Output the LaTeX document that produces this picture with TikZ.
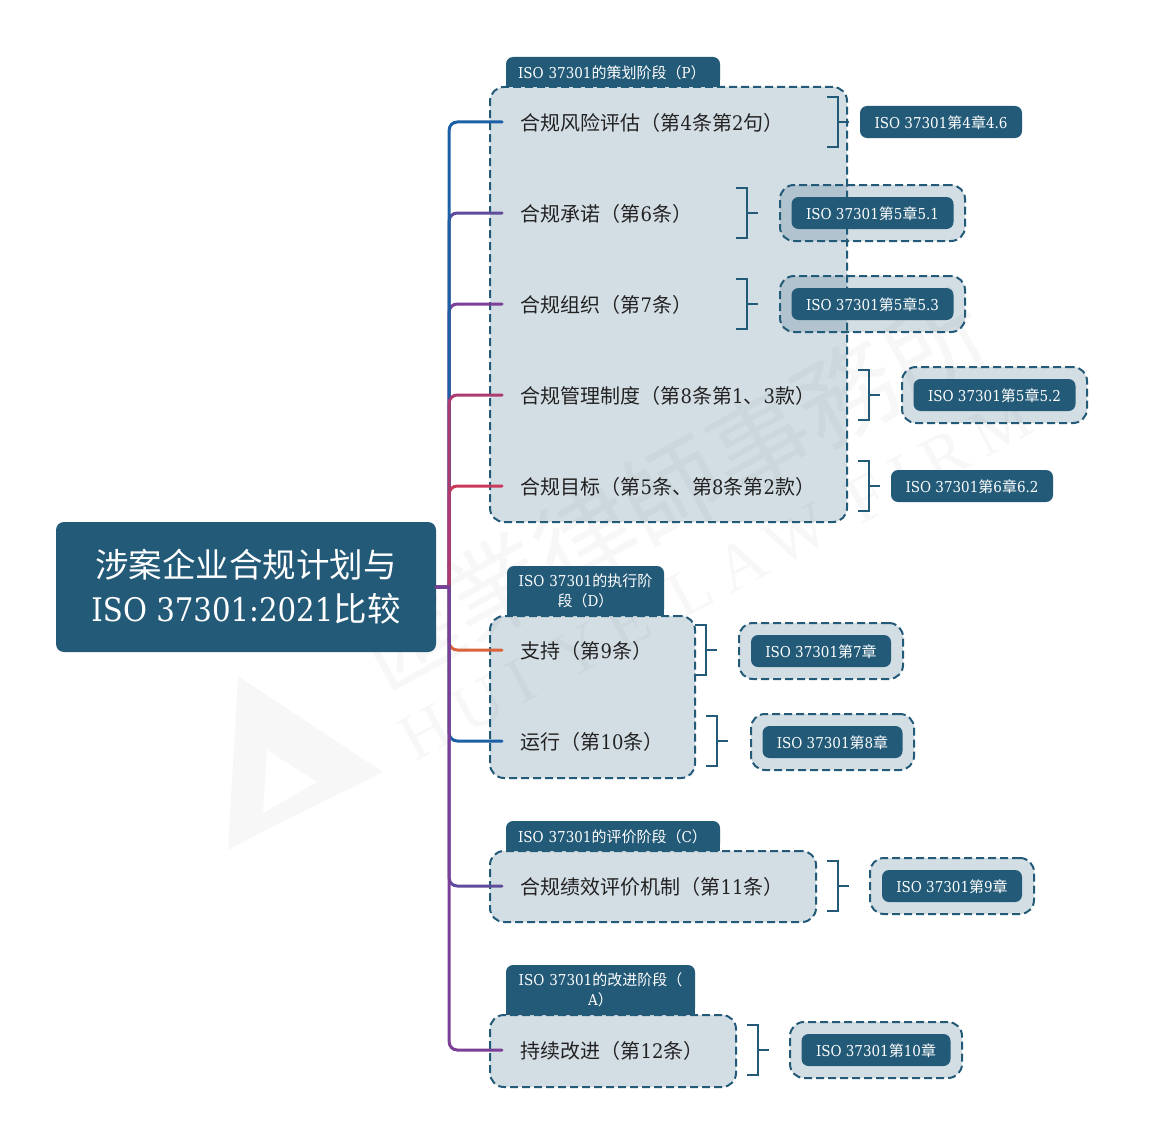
\documentclass[tikz,border=0pt]{standalone}
\usepackage{fontspec}
\setmainfont{DejaVu Serif Condensed}
\newfontfamily\cjk{Noto Sans CJK SC}
\newfontfamily\markcjk{Noto Sans CJK TC}
\newfontfamily\marklatin[LetterSpace=20]{Liberation Serif}
\newcommand{\zh}[1]{{\cjk #1}}
\usetikzlibrary{arrows.meta, positioning, calc}
\definecolor{boxblue}{RGB}{35, 90, 120}
\definecolor{inktext}{RGB}{34, 34, 34}
\definecolor{markgray}{RGB}{247, 247, 247}
\definecolor{brblue}{RGB}{27, 95, 165}
\definecolor{brindigo}{RGB}{95, 75, 155}
\definecolor{brpurple}{RGB}{123, 63, 152}
\definecolor{brmagenta}{RGB}{172, 58, 112}
\definecolor{brred}{RGB}{201, 57, 90}
\definecolor{brorange}{RGB}{217, 98, 58}
\tikzset{
  rootnode/.style={fill=boxblue, text=white, rounded corners=8, minimum width=380, minimum height=130,
    inner sep=0, align=center, font=\fontsize{33.5}{44}\selectfont},
  groupbox/.style={draw=boxblue, line width=2, dash pattern=on 8 off 4, fill=boxblue, fill opacity=0.2,
    draw opacity=1, rounded corners=14, inner sep=0},
  tabnode/.style={fill=boxblue, text=white, rounded corners=7, inner sep=0, font=\fontsize{15}{20}\selectfont},
  tabline/.style={tabnode, minimum width=214, minimum height=30, text width=190, align=left,
    text height=15.2, text depth=1.8},
  itemnode/.style={anchor=west, inner ysep=0, inner xsep=18.5, text height=19.6, text depth=2.4, text=inktext,
    font=\fontsize{20}{24}\selectfont},
  refbox/.style={fill=boxblue, text=white, rounded corners=7, minimum height=32, inner sep=0,
    text height=15.2, text depth=1.8, font=\fontsize{15}{20}\selectfont},
  halobox/.style={draw=boxblue, line width=2, dash pattern=on 8 off 4, fill=boxblue, fill opacity=0.2,
    draw opacity=1, rounded corners=14, minimum height=56, inner sep=0},
  branch/.style={line width=3, line cap=round},
  bracket/.style={draw=boxblue, line width=2}
}
\begin{document}
\begin{tikzpicture}[x=1pt, y=-1pt]
  \useasboundingbox (0,0) rectangle (1153,1145);

  % Watermark
  \fill[markgray, even odd rule] (238,676) -- (383,772) -- (262,832) -- (228,850) -- cycle
    (267,750) -- (317,782) -- (263,813) -- cycle;
  \node[rotate=29, text=markgray, font=\fontsize{100}{100}\selectfont\markcjk] (markzh) at (672,490) {匯業律師事務所};
  \node[rotate=28, text=markgray, font=\fontsize{66}{66}\selectfont\marklatin] (markla) at (716,578) {HUI YE LAW FIRM};

  % Stage tabs
  \fill[boxblue] (506,87) rectangle (720,72);
  \node[tabline] (tabP) at (613,72) {ISO 37301\zh{的策划阶段（}P\zh{）}};
  \fill[boxblue] (507,616) rectangle (664,591);
  \node[tabnode, minimum width=157, minimum height=50, text width=140, align=center] (tabD) at (585.5,591)
    {ISO 37301\zh{的执行阶}\\\zh{段（}D\zh{）}};
  \fill[boxblue] (506,851) rectangle (720,836);
  \node[tabline] (tabC) at (613,836) {ISO 37301\zh{的评价阶段（}C\zh{）}};
  \fill[boxblue] (506,1015) rectangle (695,990);
  \node[tabnode, minimum width=189, minimum height=50, text width=170, align=center] (tabA) at (600.5,990)
    {ISO 37301\zh{的改进阶段（}\\A\zh{）}};

  % Stage groups
  \node[groupbox, minimum width=357, minimum height=435] (groupP) at (668.5,304.5) {};
  \node[groupbox, minimum width=205, minimum height=162] (groupD) at (592.5,697) {};
  \node[groupbox, minimum width=326, minimum height=71] (groupC) at (653,886.5) {};
  \node[groupbox, minimum width=246, minimum height=72] (groupA) at (613,1051) {};

  % Root and items
  \node[rootnode] (root) at (246,587)
    {\zh{涉案企业合规计划与}\\{\fontsize{32.5}{44}\selectfont ISO 37301:2021}\zh{比较}};
  \node[itemnode] (item1) at (502,122) {\zh{合规风险评估（第}4\zh{条第}2\zh{句）}};
  \node[itemnode] (item2) at (502,213) {\zh{合规承诺（第}6\zh{条）}};
  \node[itemnode] (item3) at (502,304) {\zh{合规组织（第}7\zh{条）}};
  \node[itemnode] (item4) at (502,395) {\zh{合规管理制度（第}8\zh{条第}1\zh{、}3\zh{款）}};
  \node[itemnode] (item5) at (502,486) {\zh{合规目标（第}5\zh{条、第}8\zh{条第}2\zh{款）}};
  \node[itemnode] (item6) at (502,650) {\zh{支持（第}9\zh{条）}};
  \node[itemnode] (item7) at (502,741) {\zh{运行（第}10\zh{条）}};
  \node[itemnode] (item8) at (502,886) {\zh{合规绩效评价机制（第}11\zh{条）}};
  \node[itemnode] (item9) at (502,1050) {\zh{持续改进（第}12\zh{条）}};

  % Branches
  \foreach \n/\c in {2/brindigo,3/brpurple,1/brblue,5/brred,4/brmagenta,6/brorange,7/brblue,8/brindigo,9/brpurple} {
    \draw[branch, \c] (root.east) -- ++(13,0) [rounded corners=8] |- (item\n.west);
  }

  % Brackets
  \foreach \n/\x/\y in {1/838/122,2/747/213,3/747/304,4/869/395,5/869/486,6/706/650,7/717/741,8/838/886,9/758/1050} {
    \coordinate (brk\n) at (\x,\y);
    \draw[bracket] (brk\n) ++(-11,-25) -- ++(11,0) -- ++(0,50) -- ++(-11,0) (brk\n) -- ++(11,0);
  }

  % References
  \node[refbox, minimum width=162] (ref1) at (941,122) {ISO 37301\zh{第}4\zh{章}4.6};
  \node[halobox, minimum width=185] (halo2) at (872.5,213) {};
  \node[refbox, minimum width=162] (ref2) at (halo2) {ISO 37301\zh{第}5\zh{章}5.1};
  \node[halobox, minimum width=185] (halo3) at (872.5,304) {};
  \node[refbox, minimum width=162] (ref3) at (halo3) {ISO 37301\zh{第}5\zh{章}5.3};
  \node[halobox, minimum width=185] (halo4) at (994.5,395) {};
  \node[refbox, minimum width=162] (ref4) at (halo4) {ISO 37301\zh{第}5\zh{章}5.2};
  \node[refbox, minimum width=162] (ref5) at (972,486) {ISO 37301\zh{第}6\zh{章}6.2};
  \node[halobox, minimum width=164] (halo6) at (821,651) {};
  \node[refbox, minimum width=140] (ref6) at (halo6) {ISO 37301\zh{第}7\zh{章}};
  \node[halobox, minimum width=163] (halo7) at (832.5,742) {};
  \node[refbox, minimum width=140] (ref7) at (halo7) {ISO 37301\zh{第}8\zh{章}};
  \node[halobox, minimum width=164] (halo8) at (952,886) {};
  \node[refbox, minimum width=140] (ref8) at (halo8) {ISO 37301\zh{第}9\zh{章}};
  \node[halobox, minimum width=172] (halo9) at (876,1050) {};
  \node[refbox, minimum width=149] (ref9) at (halo9) {ISO 37301\zh{第}10\zh{章}};

\end{tikzpicture}
\end{document}
